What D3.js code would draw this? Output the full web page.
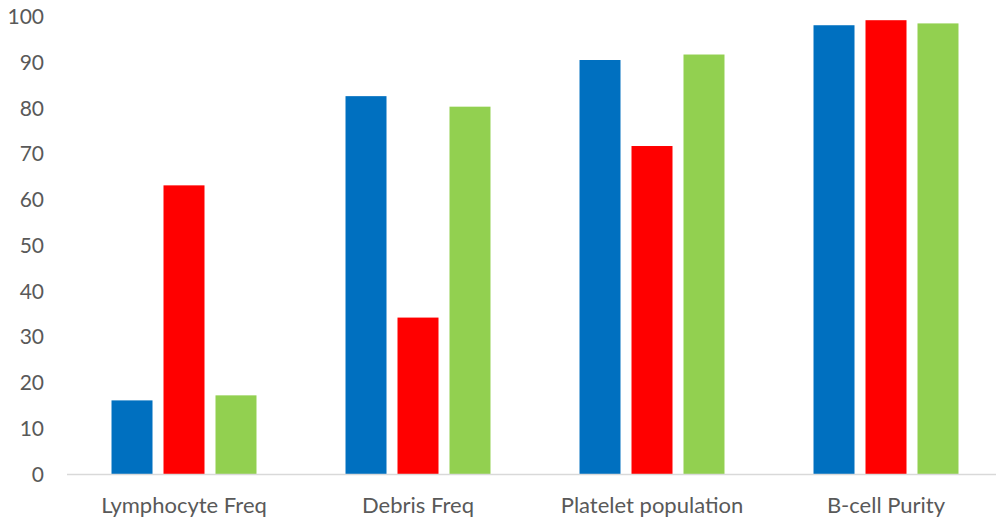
<!DOCTYPE html>
<html>
<head>
<meta charset="utf-8">
<script src="https://cdn.jsdelivr.net/npm/d3@7"></script>
<style>
  html, body { margin: 0; padding: 0; background: #ffffff; }
  svg { display: block; }
  .tick text, .cat-label { font-family: Lato, "Open Sans", sans-serif; fill: #595959; }
</style>
</head>
<body>
<svg id="chart" width="996" height="519"></svg>
<script>
// Categories and the three measured series (percent)
const categories = ["Lymphocyte Freq", "Debris Freq", "Platelet population", "B-cell Purity"];
const seriesNames = ["Series 1", "Series 2", "Series 3"];
const series1 = [16.2, 82.7, 90.6, 98.2];
const series2 = [63.2, 34.3, 71.8, 99.3];
const series3 = [17.3, 80.4, 91.8, 98.6];
const yTicks = [0, 10, 20, 30, 40, 50, 60, 70, 80, 90, 100];
const colors = ["#0070C0", "#FF0000", "#92D050"];

const seriesValues = [series1, series2, series3];
const rows = categories.map((c, i) => ({
  category: c,
  values: seriesNames.map((s, j) => ({ series: s, value: seriesValues[j][i] }))
}));

const svg = d3.select("#chart");
const plot = { left: 67, right: 1003, top: 17, bottom: 474.5 };

const x0 = d3.scaleBand()
  .domain(categories)
  .range([plot.left, plot.right])
  .paddingInner(0)
  .paddingOuter(0);

const x1 = d3.scaleBand()
  .domain(seriesNames)
  .range([0, x0.bandwidth()])
  .paddingInner(0.2115)
  .paddingOuter(0.856);

const y = d3.scaleLinear()
  .domain([0, 100])
  .range([plot.bottom, plot.top]);

const color = d3.scaleOrdinal().domain(seriesNames).range(colors);

// Y axis labels (no axis line, no tick marks)
const yAxis = svg.append("g")
  .attr("transform", `translate(${plot.left},0)`)
  .call(d3.axisLeft(y).tickValues(yTicks).tickSize(0).tickPadding(23));
yAxis.select(".domain").remove();
yAxis.selectAll(".tick text").style("font-size", "21px");

// Bars
const groups = svg.append("g")
  .selectAll("g")
  .data(rows)
  .join("g")
  .attr("transform", d => `translate(${x0(d.category)},0)`);

groups.selectAll("rect")
  .data(d => d.values)
  .join("rect")
  .attr("x", d => x1(d.series))
  .attr("width", x1.bandwidth())
  .attr("y", d => y(d.value))
  .attr("height", d => y(0) - y(d.value))
  .attr("fill", d => color(d.series));

// Category axis baseline
svg.append("line")
  .attr("x1", plot.left)
  .attr("x2", 996)
  .attr("y1", y(0))
  .attr("y2", y(0))
  .attr("stroke", "#D9D9D9")
  .attr("stroke-width", 1.3);

// Category labels
svg.append("g")
  .selectAll("text")
  .data(categories)
  .join("text")
  .attr("class", "cat-label")
  .attr("x", d => x0(d) + x0.bandwidth() / 2)
  .attr("y", 513)
  .attr("text-anchor", "middle")
  .style("font-size", "22px")
  .text(d => d);
</script>
</body>
</html>
